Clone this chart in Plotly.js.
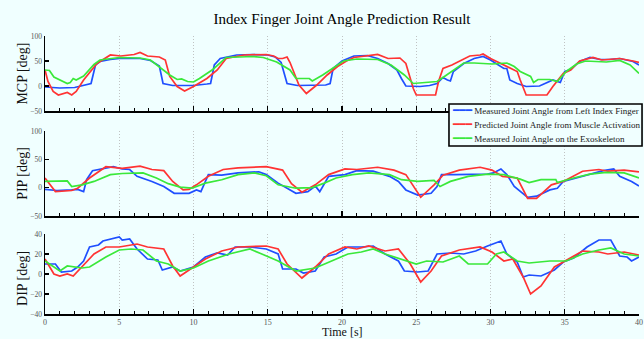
<!DOCTYPE html>
<html>
<head>
<meta charset="utf-8">
<script src="https://cdn.plot.ly/plotly-3.0.1.min.js"></script>
<style>html,body{margin:0;padding:0;background:#f0ffff;}#chart{width:644px;height:339px;}</style>
</head>
<body>
<div id="chart"></div>
<script>
// ---- data: [time s, angle deg] ----
const seriesNames = ["Measured Joint Angle from Left Index Finger","Predicted Joint Angle from Muscle Activation","Measured Joint Angle on the Exoskeleton"];
const xTicks = [0,5,10,15,20,25,30,35,40];

const mcpMeasured = [[0,-2],[1,-4],[2,-3],[2.8,2],[3.1,5],[3.4,42],[3.7,49],[4.4,53],[5,55],[6.4,55],[7.1,51],[7.7,40],[7.95,5],[8.6,1],[10,1],[10.9,4],[11.15,5],[11.4,42],[11.8,55],[12.9,62],[14,63],[15,62],[15.5,58],[15.9,47],[16.3,5],[17,1],[18.9,2],[19.2,5],[19.4,35],[20,50],[20.8,60],[21.7,61],[22.4,55],[23.1,45],[23.7,32],[24.0,15],[24.3,0],[25.25,-1],[25.9,1],[26.4,5],[26.8,17],[27.1,12],[27.3,10],[27.5,29],[28.2,45],[28.9,55],[29.5,59],[30,52],[30.4,45],[30.9,35],[31.1,35],[31.3,12],[31.8,5],[32.4,-1],[33.3,0],[34.2,12],[34.7,7],[35,29],[35.4,33],[36,49],[36.7,57],[37.4,53],[38,53],[38.7,55],[39.6,49],[40,42]];
const mcpPredicted = [[0,32],[0.2,9],[0.55,-11],[0.9,-18],[1.5,-13],[1.8,-18],[2.1,-11],[2.6,12],[3.5,45],[4.4,62],[5.1,60],[6,63],[6.4,67],[6.9,60],[7.7,58],[8.1,52],[8.4,19],[8.9,-1],[9.4,-10],[10,-1],[10.9,15],[11.6,32],[12.2,55],[13.4,62],[14.9,63],[15.4,60],[15.7,55],[16,55],[16.3,58],[16.5,47],[17.1,2],[17.6,-15],[18.3,2],[19,22],[19.7,39],[20.3,50],[20.8,57],[21.7,60],[22.4,63],[23.1,55],[23.9,56],[24.3,45],[24.8,-5],[25,-18],[26.3,-18],[26.5,9],[26.8,35],[27.4,42],[28.2,55],[28.6,60],[29.3,62],[29.5,64],[30,55],[30.7,45],[31.3,37],[31.8,29],[32,12],[32.4,-18],[33.8,-18],[34.2,-1],[34.9,25],[35.4,32],[36,50],[36.9,57],[37.5,52],[38,53],[38.7,55],[39.6,50],[40,47]];
const mcpExo = [[0,32],[0.3,31],[0.6,18],[1.5,5],[1.7,7],[1.9,15],[2.1,12],[2.6,20],[3.3,43],[3.7,52],[5,57],[6.4,56],[7.1,52],[8,32],[8.4,22],[8.9,13],[9.2,14],[9.6,9],[10,8],[10.4,15],[11.3,33],[12.2,57],[14,59],[14.7,57],[15.6,48],[16.5,32],[16.9,15],[17.8,15],[18,10],[18.7,22],[19.7,42],[20.1,50],[21,54],[22.4,53],[23.3,42],[24.2,22],[24.8,5],[25.9,7],[26.4,9],[26.8,17],[27.5,32],[28.2,46],[28.9,46],[30.1,44],[31.1,46],[31.6,39],[32,29],[32.7,19],[32.9,7],[33.2,13],[34,13],[34.5,9],[35.1,29],[35.8,44],[36.4,50],[37.8,48],[38.7,51],[39.4,42],[40,25]];

const pipMeasured = [[0,-3],[0.8,-5],[1.8,-4],[2.2,-3],[2.6,-7],[2.8,14],[3.2,30],[3.9,34],[4.6,37],[5.2,33],[5.7,32],[6.2,20],[7.2,11],[8.0,2],[8.7,-10],[9.7,-10],[10.2,-4],[10.5,-7],[11,23],[11.9,22],[13,26],[14.4,28],[14.9,23],[15.7,8],[16.9,-10],[17.7,-7],[18.2,3],[18.5,-7],[19.1,20],[20.2,23],[21,30],[22.1,29],[23.2,20],[23.8,11],[24.3,-4],[25.1,-13],[26,-10],[26.4,2],[26.7,23],[27.6,23],[28.7,23],[29.8,24],[30.2,26],[30.7,33],[31.1,23],[31.6,2],[32.5,-17],[33.1,-15],[34,-4],[34.5,-1],[34.9,11],[36.2,20],[37.6,30],[38.3,33],[38.7,20],[39.5,11],[40,3]];
const pipPredicted = [[0,17],[0.7,-7],[1.8,-5],[2.2,-1],[3.0,17],[4.1,37],[5.2,34],[6.4,38],[7.2,32],[8.0,30],[8.6,11],[9.3,-4],[9.7,-3],[10.2,5],[11,20],[12,32],[13,35],[14.9,37],[16,31],[16.6,7],[17.3,-8],[18.2,5],[19.1,23],[20.2,33],[21,32],[22.4,36],[23.5,31],[24.3,23],[25.3,-17],[26.2,5],[26.8,22],[27.9,31],[29.3,36],[30.1,31],[30.8,20],[31.8,17],[32.5,-19],[33.1,-19],[34.1,5],[34.9,11],[36.2,29],[37.3,32],[37.9,29],[39,31],[40,28]];
const pipExo = [[0,11],[0.7,11],[1.5,12],[1.8,2],[2.5,5],[3.3,11],[4.4,23],[5.2,25],[6.6,26],[7.5,17],[8.3,7],[9.1,1],[9.9,-1],[10.8,8],[11.9,14],[13,23],[14.1,26],[14.9,21],[15.7,5],[16.9,-1],[18,0],[18.8,8],[19.6,17],[20.7,23],[21.8,26],[23.2,23],[24,14],[25.1,11],[26.2,13],[26.6,2],[27.3,11],[28.5,20],[29.8,24],[30.9,23],[32,15],[32.6,9],[33.4,14],[34.4,14],[34.5,9],[35.6,17],[36.7,24],[37.8,27],[39,26],[40,17]];

const dipMeasured = [[0,10],[0.7,10],[1.1,2],[1.8,3],[2.2,7],[2.6,13],[3,27],[3.6,29],[3.9,33],[5,37],[5.2,34],[5.7,35],[6.2,25],[6.9,15],[7.6,14],[7.9,4],[8.6,7],[9.1,3],[10,7],[10.8,17],[11.6,21],[12.3,19],[12.8,27],[13.8,27],[14.9,25],[15.7,20],[16,5],[16.9,5],[17.4,1],[18.2,3],[18.8,17],[19.6,20],[20.4,27],[21.3,27],[22.1,28],[22.9,20],[23.8,13],[24.2,3],[25.1,2],[25.8,3],[26.4,20],[27.3,21],[28.2,20],[29,23],[29.8,28],[30.2,30],[30.7,33],[31.1,20],[31.8,12],[32.2,-3],[32.6,-1],[33.4,-2],[34.3,4],[34.9,12],[35.6,16],[36.5,27],[37.3,34],[38.1,34],[38.7,18],[39.2,17],[39.5,13],[40,17]];
const dipPredicted = [[0,15],[0.6,0],[1,-2],[1.5,0],[1.9,-2],[2.5,7],[3.3,20],[4.1,27],[5,27],[6.2,30],[6.9,27],[8,25],[8.6,8],[9.1,-2],[10,7],[10.8,15],[11.9,23],[13,27],[14.9,28],[15.7,25],[16.3,10],[17.3,-4],[18.2,7],[19.1,20],[20.2,27],[21,25],[21.8,28],[22.9,23],[23.8,25],[24.6,10],[25.3,-8],[26,3],[26.7,18],[27.9,24],[29.3,27],[30.1,22],[30.9,13],[31.5,15],[32.2,-3],[32.7,-20],[33.4,-12],[34.3,7],[34.9,12],[36.2,23],[37.3,22],[37.9,20],[39,22],[40,19]];
const dipExo = [[0,13],[1,3],[1.5,8],[2.5,6],[3,7],[4.1,17],[5,24],[5.8,25],[6.6,24],[7.5,13],[8.3,10],[9.1,3],[10,6],[11,13],[12.4,20],[13.8,25],[14.6,20],[15.7,13],[16.9,3],[18.2,6],[19.3,13],[20.4,20],[21.3,22],[22.1,25],[22.9,20],[24,15],[25,10],[25.7,13],[26.8,12],[27.9,18],[28.5,10],[29.8,10],[30.4,20],[30.9,22],[31.8,13],[32.6,11],[34,13],[35.1,13],[36.2,20],[37.3,24],[38.1,26],[39,20],[40,18]];

// ---- styling ----
const colors = ['#1f4fff', '#ff3333', '#3ae83a'];
const bg = '#f0ffff';
const serif = 'Liberation Serif, Times New Roman, serif';

const panels = [
  {data: [mcpMeasured, mcpPredicted, mcpExo], xa: 'x3', ya: 'y'},
  {data: [pipMeasured, pipPredicted, pipExo], xa: 'x2', ya: 'y2'},
  {data: [dipMeasured, dipPredicted, dipExo], xa: 'x', ya: 'y3'}
];

const traces = [];
panels.forEach((p, pi) => {
  p.data.forEach((s, si) => {
    traces.push({
      x: s.map(d => d[0]), y: s.map(d => d[1]),
      xaxis: p.xa, yaxis: p.ya, type: 'scatter', mode: 'lines',
      name: seriesNames[si], showlegend: false,
      line: {color: colors[si], width: 1.7}
    });
  });
});

function xAxis(anchor, labels) {
  return {
    anchor: anchor, domain: [0, 1], range: [0, 40],
    tickvals: xTicks, ticks: 'inside', ticklen: 5, tickwidth: 1.3, tickcolor: '#000',
    showticklabels: labels,
    tickfont: {family: serif, size: 8, color: '#555'},
    showline: true, linecolor: '#000', linewidth: 1.6,
    showgrid: true, gridcolor: '#b4b4b4', griddash: '1px,2px', gridwidth: 0.8,
    zeroline: false,
    minor: {dtick: 1, ticks: 'inside', ticklen: 3, tickcolor: '#000', tickwidth: 1, showgrid: false}
  };
}
function yAxis(anchor, domain, range, tv) {
  return {
    anchor: anchor, domain: domain, range: range, tickvals: tv,
    ticks: 'inside', ticklen: 4, tickwidth: 1.2, tickcolor: '#000',
    tickfont: {family: serif, size: 7.5, color: '#555'},
    showline: true, linecolor: '#000', linewidth: 1.4,
    showgrid: false, zeroline: false
  };
}

// legend entries: one annotation per series, coloured line glyph + series name
const legendRowsY = [0.7183, 0.669, 0.6197];
const legendAnns = seriesNames.map((n, i) => ({
  text: '<span style="font-family:DejaVu Sans;font-size:10.5px;color:' + colors[i] + '">━━━</span> ' + n,
  xref: 'paper', yref: 'paper', x: 0.6835, y: legendRowsY[i], xanchor: 'left', yanchor: 'middle',
  align: 'left', showarrow: false, borderpad: 0,
  font: {family: serif, size: 9, color: '#222'}
}));

const layout = {
  width: 644, height: 339,
  margin: {l: 45, r: 5, t: 30, b: 25},
  paper_bgcolor: bg, plot_bgcolor: bg,
  showlegend: false,
  title: {text: 'Index Finger Joint Angle Prediction Result', font: {family: serif, size: 15, color: '#000'},
          x: 0.5, xref: 'paper', xanchor: 'center', y: 0.944, yref: 'container', yanchor: 'middle'},
  xaxis: xAxis('y3', true),
  xaxis2: xAxis('y2', false),
  xaxis3: xAxis('y', false),
  yaxis3: yAxis('x', [0, 0.2817], [-40, 40], [-40, -20, 0, 20, 40]),
  yaxis2: yAxis('x2', [0.3451, 0.6444], [-50, 100], [-50, 0, 50, 100]),
  yaxis: yAxis('x3', [0.7148, 0.9789], [-50, 100], [-50, 0, 50, 100]),
  // legend frame
  shapes: [
    {type: 'rect', xref: 'paper', yref: 'paper', x0: 0.6801, x1: 1.0051, y0: 0.5915, y1: 0.7394,
     fillcolor: bg, line: {color: '#000', width: 1.6}, layer: 'above'}
  ],
  annotations: legendAnns.concat([
    {text: 'MCP [deg]', xref: 'paper', yref: 'paper', x: -0.038, y: 0.848, textangle: -90, showarrow: false, xanchor: 'center', yanchor: 'middle', font: {family: serif, size: 14, color: '#111'}},
    {text: 'PIP [deg]', xref: 'paper', yref: 'paper', x: -0.038, y: 0.495, textangle: -90, showarrow: false, xanchor: 'center', yanchor: 'middle', font: {family: serif, size: 14, color: '#111'}},
    {text: 'DIP [deg]', xref: 'paper', yref: 'paper', x: -0.038, y: 0.125, textangle: -90, showarrow: false, xanchor: 'center', yanchor: 'middle', font: {family: serif, size: 14, color: '#111'}},
    {text: 'Time [s]', xref: 'paper', yref: 'paper', x: 0.5, y: -0.062, showarrow: false, xanchor: 'center', yanchor: 'middle', font: {family: serif, size: 12, color: '#111'}}
  ])
};

Plotly.newPlot('chart', traces, layout, {displayModeBar: false, staticPlot: true});
</script>
</body>
</html>
